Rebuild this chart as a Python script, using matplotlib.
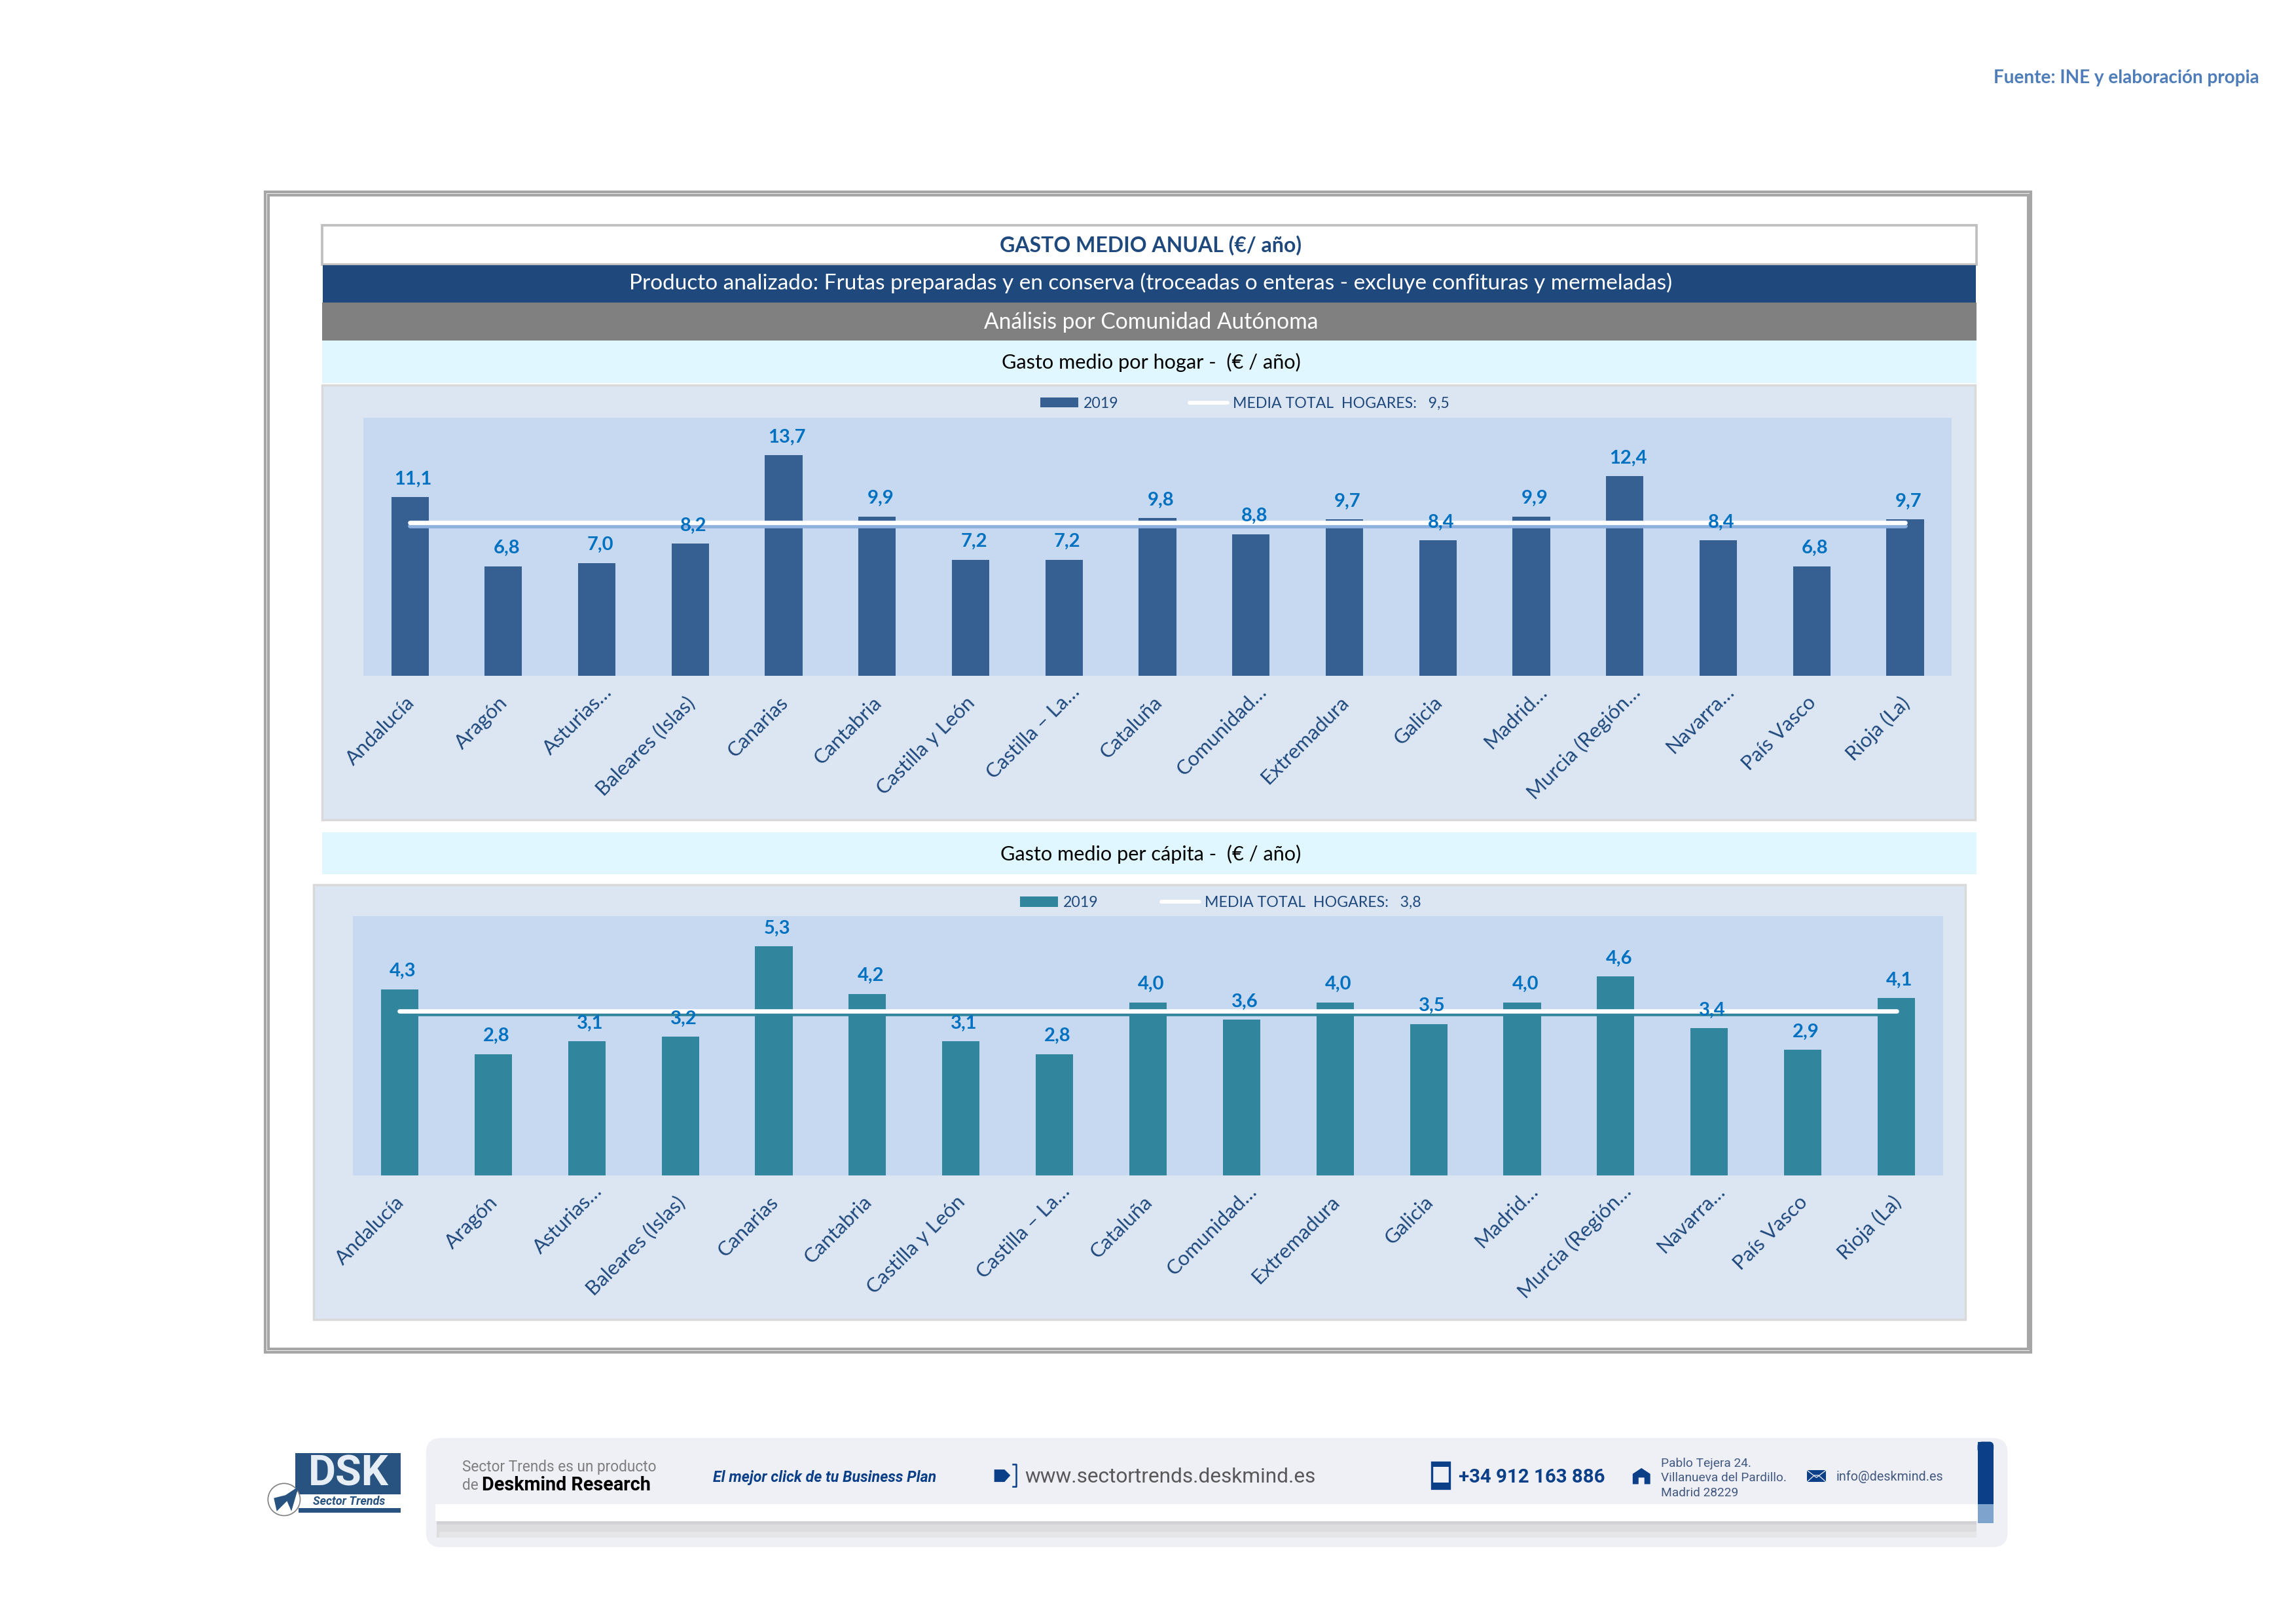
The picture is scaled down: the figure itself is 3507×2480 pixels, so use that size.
import matplotlib
matplotlib.use('Agg')
import matplotlib.pyplot as plt
import matplotlib.patheffects as pe
from matplotlib.lines import Line2D
from matplotlib.patches import Rectangle, FancyBboxPatch, Ellipse, Polygon
from matplotlib.transforms import ScaledTranslation

plt.rcParams['font.family'] = ['Lato', 'DejaVu Sans']

regiones = ['Andalucía', 'Aragón', 'Asturias…', 'Baleares (Islas)', 'Canarias', 'Cantabria',
            'Castilla y León', 'Castilla – La…', 'Cataluña', 'Comunidad…', 'Extremadura',
            'Galicia', 'Madrid…', 'Murcia (Región…', 'Navarra…', 'País Vasco', 'Rioja (La)']
gasto_hogar = [11.1, 6.8, 7.0, 8.2, 13.7, 9.9, 7.2, 7.2, 9.8, 8.8, 9.7, 8.4, 9.9, 12.4, 8.4, 6.8, 9.7]
gasto_capita = [4.3, 2.8, 3.1, 3.2, 5.3, 4.2, 3.1, 2.8, 4.0, 3.6, 4.0, 3.5, 4.0, 4.6, 3.4, 2.9, 4.1]
media_hogar = 9.5
media_capita = 3.8
serie = '2019'

# layout is written in the 1568 x 1109 preview coordinates
W, H = 1568, 1109
PX = 3507 / W / 300  # one preview unit in inches
AZUL = '#1F497D'
AZUL_FOOT = '#0B3F87'
CIAN = '#E0F7FF'
PANEL = '#DCE6F2'
PLOT = '#C6D9F1'

fig = plt.figure(figsize=(3507 / 300, 2480 / 300), dpi=300, facecolor='white')
bg = fig.add_axes([0, 0, 1, 1], zorder=0)
bg.set_xlim(0, W)
bg.set_ylim(H, 0)
bg.axis('off')


def rect(x0, y0, x1, y1, color, edge='none', lw=0, ax=bg, z=1):
    ax.add_patch(Rectangle((x0, y0), x1 - x0, y1 - y0, facecolor=color, edgecolor=edge, linewidth=lw, zorder=z))


def txt(x, y, s, size, color, ha='center', weight='normal', style='normal', family=None, z=5):
    kw = {'family': family} if family else {}
    bg.text(x, y, s, fontsize=size, color=color, ha=ha, va='center', weight=weight, style=style, zorder=z, **kw)


def chart(x0, y0, x1, y1, values, media, color, shadow, ymax, leg_x, leg_y, leg_gap):
    ax = fig.add_axes([x0 / W, 1 - y1 / H, (x1 - x0) / W, (y1 - y0) / H], zorder=1)
    ax.set_facecolor(PLOT)
    pos = list(range(len(values)))
    bars = ax.bar(pos, values, width=0.4, color=color, zorder=2)
    ax.plot(pos, [media] * len(pos), color='white', lw=1.6, solid_capstyle='round', zorder=3,
            path_effects=[pe.SimpleLineShadow(offset=(0, -1.0), shadow_color=shadow, alpha=1), pe.Normal()])
    for i, v in zip(pos, values):
        ax.annotate(f'{v:.1f}'.replace('.', ','), (i, v), xytext=(1.2, 3.5), textcoords='offset points',
                    ha='center', va='bottom', fontsize=7, fontweight='bold', color='#0070C0', zorder=4,
                    annotation_clip=False)
    ax.set_xlim(-0.5, len(values) - 0.5)
    ax.set_ylim(0, ymax)
    ax.set_yticks([])
    ax.set_xticks(pos)
    ax.set_xticklabels(regiones, rotation=45, ha='right', va='top', rotation_mode='anchor',
                       fontsize=7.5, color=AZUL)
    ax.tick_params(axis='x', length=0, pad=6.4)
    for lab in ax.get_xticklabels():
        # cut labels sit further up the slant in the original
        if lab.get_text().endswith('…'):
            shift = ScaledTranslation(4 * PX, 7.5 * PX, fig.dpi_scale_trans)
        else:
            shift = ScaledTranslation(-3.5 * PX, 0, fig.dpi_scale_trans)
        lab.set_transform(lab.get_transform() + shift)
    for sp in ax.spines.values():
        sp.set_visible(False)
    label = f'MEDIA TOTAL  HOGARES:   {media:.1f}'.replace('.', ',')
    line_key = Line2D([0], [0], color='white', lw=1.4, solid_capstyle='round')
    leg = ax.legend([bars, line_key], [serie, label], ncols=2, frameon=False, loc='center',
                    bbox_to_anchor=(leg_x, leg_y), bbox_transform=bg.transData, fontsize=5.55,
                    handlelength=2.5, handleheight=0.68, handletextpad=0.34, columnspacing=leg_gap,
                    labelcolor=AZUL, borderpad=0, borderaxespad=0)
    leg.set_zorder(5)
    return ax


# fuente
txt(1543, 53, 'Fuente: INE y elaboración propia', 6.7, '#4F7DB9', ha='right', weight='bold')

# outer frame, double grey line
rect(181.2, 131.1, 1387, 923.6, 'white', '#A6A6A6', 1.0)
rect(183.3, 133.3, 1385, 921.1, 'white', '#A6A6A6', 1.0)

# header rows
rect(220, 154, 1350, 180.5, 'white', '#BFBFBF', 0.9)
rect(220.5, 181, 1349.5, 206.5, AZUL)
rect(220, 206.5, 1350, 232.5, '#808080')
rect(220, 232.5, 1350, 261.5, CIAN)
txt(786, 167.3, 'GASTO MEDIO ANUAL (€/ año)', 7.7, AZUL, weight='bold')
txt(786, 193.3, 'Producto analizado: Frutas preparadas y en conserva (troceadas o enteras - excluye confituras y mermeladas)', 8.03, 'white')
txt(786, 220, 'Análisis por Comunidad Autónoma', 8.05, 'white')
txt(786, 247.5, 'Gasto medio por hogar -  (€ / año)', 7.35, 'black')

# panel 1
rect(220, 263, 1349, 560, PANEL, '#D9D9D9', 0.8)
chart(248, 285.5, 1333, 461.5, gasto_hogar, media_hogar, '#366092', '#8DB0DF', 16, 850, 275.5, 4.7)

# panel 2
rect(220, 568.5, 1350, 597, CIAN)
txt(786, 583.5, 'Gasto medio per cápita -  (€ / año)', 7.35, 'black')
rect(214, 604, 1342, 901, PANEL, '#D9D9D9', 0.8)
chart(241, 625.5, 1327, 802.5, gasto_capita, media_capita, '#31859C', '#31859C', 6, 833.5, 616.5, 4.2)

# footer banner
bg.add_patch(FancyBboxPatch((291, 982), 1080, 74.5, boxstyle='round,pad=0,rounding_size=10', mutation_aspect=1,
                            facecolor='#EFEFF6', edgecolor='none', zorder=1))
rect(298, 1038.5, 1350, 1050, '#DDDCDF', z=2)
rect(298, 1038.5, 1350, 1041, '#D2D1D6', z=2)
rect(300, 1046, 1350, 1050, '#E6E6E8', z=2)
rect(297.5, 1027, 1350.5, 1039, 'white', z=3)
rect(1350.5, 1027, 1361.5, 1040, '#7EA3CC', z=3)
rect(1350.5, 988, 1361.5, 1027, AZUL_FOOT, z=3)
bg.add_patch(FancyBboxPatch((1350.5, 984.5), 11, 8, boxstyle='round,pad=0,rounding_size=3', facecolor=AZUL_FOOT,
                            edgecolor='none', zorder=3))
rect(1350.5, 984.5, 1354, 992, AZUL_FOOT, z=3)
txt(315.5, 1002, 'Sector Trends es un producto', 5.45, '#7F7F7F', ha='left', family='Roboto')
txt(315.5, 1014.5, 'de', 5.45, '#7F7F7F', ha='left', family='Roboto')
txt(329, 1014, 'Deskmind Research', 6.9, 'black', ha='left', weight='bold', family='Roboto')
txt(487, 1009, 'El mejor click de tu Business Plan', 5.55, AZUL_FOOT, ha='left', weight='bold', style='italic', family='Roboto')
txt(700, 1008.5, 'www.sectortrends.deskmind.es', 7.6, '#58585A', ha='left', family='Roboto')
txt(996, 1009, '+34 912 163 886', 7.05, AZUL_FOOT, ha='left', weight='bold', family='Roboto')
txt(1134.5, 999.5, 'Pablo Tejera 24.', 4.6, '#41587F', ha='left', family='Roboto')
txt(1134.5, 1009.5, 'Villanueva del Pardillo.', 4.6, '#41587F', ha='left', family='Roboto')
txt(1134.5, 1019.5, 'Madrid 28229', 4.6, '#41587F', ha='left', family='Roboto')
txt(1254, 1008.5, 'info@deskmind.es', 4.75, '#41587F', ha='left', family='Roboto')

# footer icons
bg.add_patch(Polygon([(679, 1003.5), (686, 1003.5), (690, 1007.5), (686, 1012), (679, 1012)], facecolor=AZUL_FOOT, zorder=5))
bg.plot([691.5, 694, 694, 691.5], [1000, 1000, 1015, 1015], color=AZUL_FOOT, lw=0.6, zorder=5)
rect(978, 998.5, 990, 1016.5, 'none', AZUL_FOOT, 0.8, z=5)
rect(978, 1012.5, 990, 1017, AZUL_FOOT, z=5)
rect(978, 999, 990, 1001.5, AZUL_FOOT, z=5)
bg.add_patch(Polygon([(1115, 1013.5), (1115, 1006.5), (1121, 1002.5), (1127, 1006.5), (1127, 1013.5),
                      (1123, 1013.5), (1123, 1009), (1119, 1009), (1119, 1013.5)], facecolor=AZUL_FOOT, zorder=5))
rect(1234, 1004, 1247, 1012, AZUL_FOOT, z=5)
bg.plot([1234, 1240.5, 1247], [1004, 1009, 1004], color='#EFEFF6', lw=0.3, zorder=6)
bg.plot([1234, 1239, 1242, 1247], [1012, 1007.5, 1007.5, 1012], color='#EFEFF6', lw=0.3, zorder=6)

# logo
rect(201.5, 992.5, 273.5, 1020.5, '#28527F', z=2)
rect(204, 1030, 273.5, 1033, '#28527F', z=2)
txt(238, 1006.5, 'DSK', 15.5, '#E6EDF5', weight='bold', family='Roboto')
txt(238.5, 1025.5, 'Sector Trends', 4.3, '#28527F', weight='bold', style='italic', family='Roboto')
bg.add_patch(Ellipse((194, 1024), 22, 22, facecolor='white', edgecolor='#7F7F7F', linewidth=0.4, zorder=3))
bg.add_patch(Polygon([(204, 1015), (199, 1032), (196, 1025), (189, 1032), (187, 1023), (195, 1021)],
                     facecolor='#28527F', zorder=4))

fig.savefig('out.png', dpi=300)
plt.close(fig)
